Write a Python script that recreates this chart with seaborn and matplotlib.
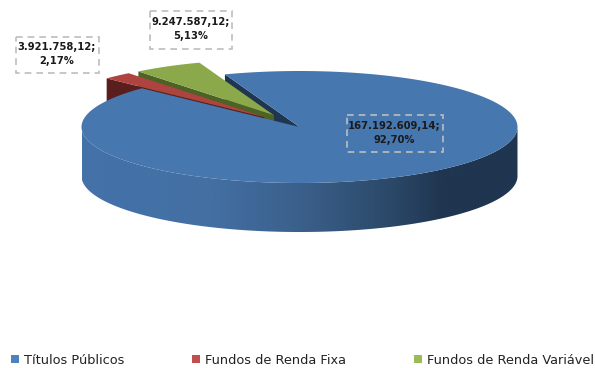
import numpy as np
import matplotlib
matplotlib.use("Agg")
import matplotlib.pyplot as plt
from matplotlib.colors import LinearSegmentedColormap
from matplotlib.patches import Polygon, Rectangle
import seaborn as sns

# Portfolio composition
categories = ["Títulos Públicos", "Fundos de Renda Fixa", "Fundos de Renda Variável"]
values = [167192609.14, 3921758.12, 9247587.12]

# Slice colours: legend swatch, top face, side wall
swatch = ["#4F81BD", "#C0504D", "#9BBB59"]
top_face = ["#4677AF", "#AE4340", "#8BA94A"]
side_wall = ["#1F3550", "#5A1F1D", "#4E6226"]
palette = sns.color_palette(swatch)

# Projected pie geometry, in figure pixels
CX, CY, RX, RY, DEPTH = 299.5, 127.0, 218.0, 56.0, 49.0
EXPLODE = [0.0, 0.24, 0.24]
START_ANGLE = 110.0

# Label placement: text centre and dashed box (left, top, right, bottom)
label_centres = [(394, 133), (57, 54), (191, 29)]
label_boxes = [(347, 115, 443, 152), (16, 37, 99, 73), (150, 11, 232, 49)]


def brl(v):
    return f"{v:,.2f}".replace(",", "X").replace(".", ",").replace("X", ".")


def pct(v, total):
    return f"{100 * v / total:.2f}".replace(".", ",") + "%"


sns.set_theme(style="white")
plt.rcParams["font.family"] = ["DejaVu Sans"]

fig = plt.figure(figsize=(5.95, 3.68), dpi=100)
ax = fig.add_axes([0, 0, 1, 1])

total = sum(values)
spans = [360.0 * v / total for v in values]

# The blue slice runs clockwise from START_ANGLE; the others fill the notch
# that remains, going counter-clockwise from the same angle on the far side.
ranges = [(START_ANGLE - spans[0], START_ANGLE)]
ranges.append((START_ANGLE + spans[2], START_ANGLE + spans[2] + spans[1]))
ranges.append((START_ANGLE, START_ANGLE + spans[2]))


def point(theta, cx, cy):
    t = np.radians(theta)
    return cx + RX * np.cos(t), cy - RY * np.sin(t)


def apex(i):
    lo, hi = ranges[i]
    mid = np.radians((lo + hi) / 2)
    return CX + EXPLODE[i] * RX * np.cos(mid), CY - EXPLODE[i] * RY * np.sin(mid)


def top_outline(i):
    lo, hi = ranges[i]
    cx, cy = apex(i)
    th = np.linspace(lo, hi, 240)
    xs, ys = point(th, cx, cy)
    return np.vstack([[cx, cy], np.column_stack([xs, ys])])


def radial_wall(i, theta):
    cx, cy = apex(i)
    ex, ey = point(theta, cx, cy)
    return [(cx, cy), (ex, ey), (ex, ey + DEPTH), (cx, cy + DEPTH)]


# Radial walls seen through the notch, back to front
ax.add_patch(Polygon(radial_wall(0, ranges[0][1]), fc=side_wall[0], ec="none", zorder=1))
ax.add_patch(Polygon(radial_wall(2, ranges[2][1]), fc=side_wall[2], ec="none", zorder=2))
ax.add_patch(Polygon(top_outline(2), fc=top_face[2], ec="none", zorder=3))
ax.add_patch(Polygon(radial_wall(1, ranges[1][1]), fc=side_wall[1], ec="none", zorder=4))
ax.add_patch(Polygon(top_outline(1), fc=top_face[1], ec="none", zorder=5))

# Front wall of the main slice with its left-to-right shading
th = np.linspace(180, 360, 361)
xs, ys = point(th, CX, CY)
wall = np.vstack([np.column_stack([xs, ys]),
                  np.column_stack([xs[::-1], ys[::-1] + DEPTH])])
shade = LinearSegmentedColormap.from_list(
    "wall", [(0.0, "#4372A9"), (0.3, "#436FA3"), (0.52, "#3A5E88"),
             (0.72, "#2A4766"), (0.83, "#1F3550"), (1.0, "#1F3550")])
grad = ax.imshow(np.linspace(0, 1, 512)[None, :], cmap=shade, aspect="auto",
                 extent=(CX - RX, CX + RX, CY + RY + DEPTH, CY), zorder=6)
clip = Polygon(wall, transform=ax.transData, fc="none", ec="none")
ax.add_patch(clip)
grad.set_clip_path(clip)

ax.add_patch(Polygon(top_outline(0), fc=top_face[0], ec="none", zorder=7))

# Value labels with dashed frames
for v, (tx, ty), (l, t, r, b) in zip(values, label_centres, label_boxes):
    ax.add_patch(Rectangle((l, t), r - l, b - t, fc="none", ec="#BDBDBD",
                           ls=(0, (4, 3)), lw=1.2, zorder=8))
    ax.text(tx, ty, f"{brl(v)};\n{pct(v, total)}", ha="center", va="center",
            fontsize=7.2, fontweight="bold", color="#1A1A1A", linespacing=1.6,
            zorder=9)

# Legend along the bottom
handles = [Rectangle((0, 0), 1, 1, fc=c, ec="none") for c in palette]
ax.legend(handles, categories, loc="lower left", bbox_to_anchor=(11 / 595, 1.5 / 368),
          ncol=3, frameon=False, fontsize=9.3, handlelength=0.62, handleheight=0.62,
          handletextpad=0.39, columnspacing=5.25, borderaxespad=0, borderpad=0,
          labelcolor="#222222")

ax.set_xlim(0, 595)
ax.set_ylim(368, 0)
ax.axis("off")
fig.savefig("out.png", dpi=100, facecolor="white")
